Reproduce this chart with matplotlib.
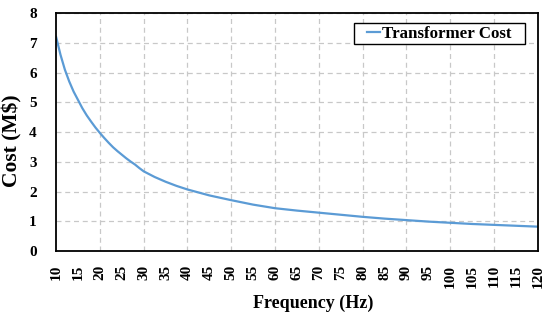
import numpy as np
import matplotlib.pyplot as plt
from matplotlib.patches import Rectangle

# values
freq = [10, 11, 12, 13, 14, 15, 16, 17, 18, 19, 20, 21, 22, 23, 24, 25, 26, 27, 28, 29, 30,
        32.5, 35, 37.5, 40, 45, 50, 55, 60, 65, 70, 75, 80, 85, 90, 95, 100, 105, 110, 115, 120]
cost = [7.2, 6.6, 6.1, 5.7, 5.36, 5.08, 4.8, 4.56, 4.35, 4.15, 3.97, 3.8, 3.64, 3.49, 3.36,
        3.24, 3.12, 3.01, 2.91, 2.79, 2.68, 2.49, 2.33, 2.19, 2.07, 1.87, 1.71, 1.56, 1.44,
        1.36, 1.29, 1.22, 1.15, 1.09, 1.04, 0.99, 0.95, 0.91, 0.88, 0.85, 0.82]
xlabels = list(range(10, 125, 5))

plt.rcParams['font.family'] = 'Liberation Serif'
plt.rcParams['font.weight'] = 'bold'

fig = plt.figure(figsize=(5.5, 3.19), dpi=100)
ax = fig.add_axes([0.102, 0.213, 0.876, 0.746])

ax.plot(freq, cost, color='#5b9bd5', lw=1.6, label='Transformer Cost')

ax.set_xlim(10, 120)
ax.set_ylim(0, 8)
ax.set_xticks(xlabels)
ax.set_xticklabels([str(v) for v in xlabels], rotation=90, fontsize=11, fontweight='bold')
ax.set_yticks(range(0, 9))
ax.set_yticklabels([str(v) for v in range(0, 9)], fontsize=11, fontweight='bold')
ax.tick_params(axis='y', length=0, pad=14)
ax.tick_params(axis='x', length=0, pad=10)

# grid: horizontal each unit, vertical every 10 Hz
ax.yaxis.grid(True, color='#c8c8c8', ls=(0, (4, 3)), lw=0.9)
for xv in range(20, 120, 10):
    ax.axvline(xv, color='#c8c8c8', ls=(0, (4, 3)), lw=0.9, zorder=0)

for sp in ax.spines.values():
    sp.set_linewidth(1.3)
    sp.set_color('black')

ax.set_xlabel('Frequency (Hz)', fontsize=13, fontweight='bold')
ax.xaxis.set_label_coords(0.533, -0.185)
ax.set_ylabel(r'Cost (M\$)', fontsize=15.5, fontweight='bold')
ax.yaxis.set_label_coords(-0.07, 0.462)

# legend with a hand-placed box
ax.add_patch(Rectangle((0.618, 0.870), 0.355, 0.088, transform=ax.transAxes,
                       facecolor='white', edgecolor='black', lw=1.0, zorder=4))
leg = ax.legend(loc='center', bbox_to_anchor=(0.7955, 0.914), fontsize=12.2,
                frameon=False, handlelength=0.75, handletextpad=0.1, borderpad=0.0)
leg.set_zorder(5)

fig.savefig('out.png', dpi=100)
